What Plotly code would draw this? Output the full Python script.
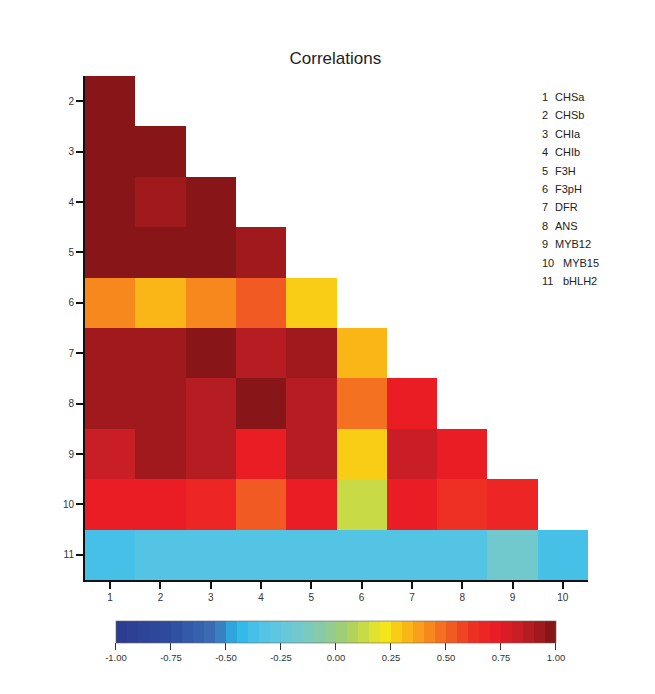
import plotly.graph_objects as go

# Gene labels (index -> name)
gene_ids = [1, 2, 3, 4, 5, 6, 7, 8, 9, 10, 11]
gene_names = ["CHSa", "CHSb", "CHIa", "CHIb", "F3H", "F3pH", "DFR", "ANS", "MYB12", "MYB15", "bHLH2"]

# Lower-triangle correlation values; row k holds gene k+2 vs genes 1..k+1
row_2 = [0.96]
row_3 = [0.96, 0.96]
row_4 = [0.96, 0.91, 0.96]
row_5 = [0.96, 0.96, 0.96, 0.91]
row_6 = [0.42, 0.32, 0.42, 0.52, 0.26]
row_7 = [0.91, 0.91, 0.96, 0.86, 0.91, 0.32]
row_8 = [0.91, 0.91, 0.86, 0.96, 0.86, 0.47, 0.72]
row_9 = [0.81, 0.91, 0.86, 0.72, 0.86, 0.26, 0.81, 0.72]
row_10 = [0.72, 0.72, 0.66, 0.52, 0.72, 0.11, 0.72, 0.61, 0.66]
row_11 = [-0.38, -0.32, -0.32, -0.32, -0.32, -0.32, -0.32, -0.32, -0.18, -0.38]
rows = [row_2, row_3, row_4, row_5, row_6, row_7, row_8, row_9, row_10, row_11]

x_vals = list(range(1, 11))
y_vals = list(range(2, 12))

# Colour-bar ticks
cbar_ticks = [-1, -0.75, -0.5, -0.25, 0, 0.25, 0.5, 0.75, 1]
cbar_ticktext = ["-1.00", "-0.75", "-0.50", "-0.25", "0.00", "0.25", "0.50", "0.75", "1.00"]

z = []
for r in rows:
    z.append(r + [None] * (10 - len(r)))

# Stepped jet-like colour scale (-1 .. 1, 40 bands)
anchors = [
    (-1.00, "#2c3b8e"), (-0.75, "#2f4c9f"), (-0.55, "#3b6fb6"), (-0.45, "#2ab7ea"),
    (-0.35, "#4fc3e6"), (-0.25, "#62c8e0"), (-0.15, "#76c9c8"), (-0.05, "#8dcaa0"),
    (0.05, "#a6cf6a"), (0.15, "#d4df3a"), (0.22, "#f5e619"), (0.30, "#fbc114"),
    (0.40, "#f7941d"), (0.50, "#f26522"), (0.62, "#ee3124"), (0.72, "#ec1c24"),
    (0.85, "#c21f26"), (1.00, "#7d1315"),
]


def hex_rgb(h):
    h = h.lstrip("#")
    return [int(h[i:i + 2], 16) for i in (0, 2, 4)]


def color_at(v):
    for (v0, c0), (v1, c1) in zip(anchors[:-1], anchors[1:]):
        if v0 <= v <= v1:
            t = (v - v0) / (v1 - v0) if v1 > v0 else 0
            a, b = hex_rgb(c0), hex_rgb(c1)
            rgb = [round(a[i] + (b[i] - a[i]) * t) for i in range(3)]
            return "rgb(%d,%d,%d)" % tuple(rgb)
    return anchors[-1][1]


n_bands = 40
colorscale = []
for i in range(n_bands):
    mid = -1 + (i + 0.5) * 2 / n_bands
    c = color_at(mid)
    colorscale.append([i / n_bands, c])
    colorscale.append([(i + 1) / n_bands, c])

fig = go.Figure()
fig.add_trace(go.Heatmap(
    x=x_vals, y=y_vals, z=z,
    zmin=-1, zmax=1,
    colorscale=colorscale,
    hoverongaps=False,
    colorbar=dict(
        orientation="h",
        x=0.499, xanchor="center", xpad=0,
        y=-0.081, yanchor="top", ypad=0,
        len=0.875, lenmode="fraction",
        thickness=22,
        outlinewidth=0.6, outlinecolor="#666",
        tickvals=cbar_ticks, ticktext=cbar_ticktext,
        ticks="outside", ticklen=7, tickcolor="#333",
        tickfont=dict(size=9.5, color="#333"),
    ),
))

# Gene legend as a numbered list
legend_top = 97
legend_step = 18.4
for i, (gid, name) in enumerate(zip(gene_ids, gene_names)):
    ypix = legend_top + i * legend_step
    fig.add_annotation(
        xref="paper", yref="paper",
        x=(540 - 85) / 503, y=(580 - ypix) / 504,
        xanchor="left", yanchor="middle", showarrow=False,
        text=str(gid), font=dict(size=11, color="#222"),
    )
    name_x = 553 if gid < 10 else 561
    fig.add_annotation(
        xref="paper", yref="paper",
        x=(name_x - 85) / 503, y=(580 - ypix) / 504,
        xanchor="left", yanchor="middle", showarrow=False,
        text=name, font=dict(size=11, color="#222"),
    )

fig.update_layout(
    width=655, height=694,
    margin=dict(l=85, r=67, t=76, b=114),
    paper_bgcolor="white", plot_bgcolor="white",
    font=dict(family="Liberation Sans, Arial, sans-serif", color="#333"),
    title=dict(text="Correlations", x=0.512, xanchor="center", y=0.916, yanchor="middle",
               font=dict(size=17, color="#222")),
    xaxis=dict(range=[0.5, 10.5], tickvals=x_vals, showgrid=False, zeroline=False,
               showline=True, linecolor="#111", linewidth=2,
               ticks="outside", ticklen=7, tickwidth=1.5, tickcolor="#111",
               tickfont=dict(size=10, color="#333")),
    yaxis=dict(range=[11.5, 1.5], tickvals=y_vals, showgrid=False, zeroline=False,
               showline=True, linecolor="#111", linewidth=2,
               ticks="outside", ticklen=7, tickwidth=1.5, tickcolor="#111",
               tickfont=dict(size=10, color="#333")),
)

fig.write_html("out.html")
